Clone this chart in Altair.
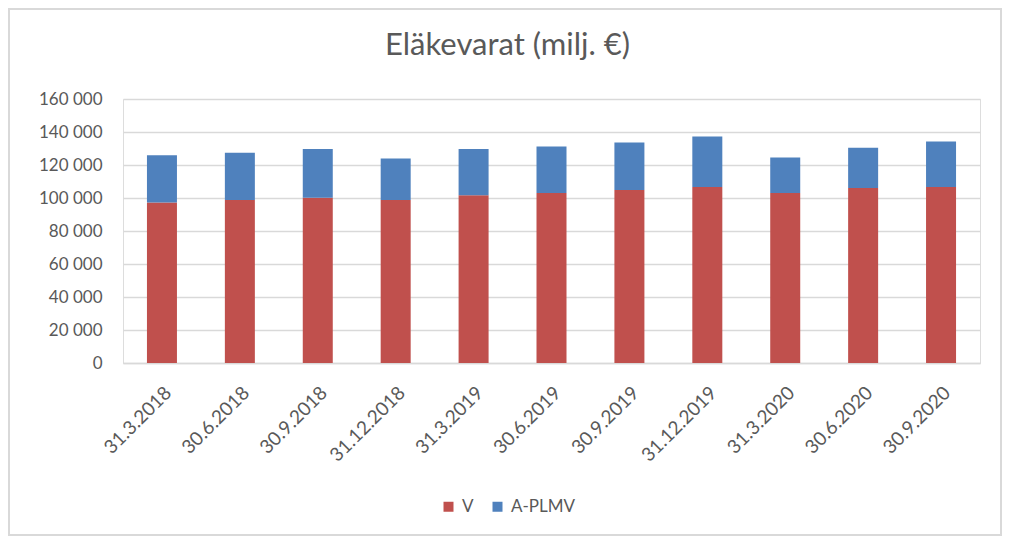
import altair as alt
import pandas as pd

dates = ["31.3.2018", "30.6.2018", "30.9.2018", "31.12.2018", "31.3.2019", "30.6.2019",
         "30.9.2019", "31.12.2019", "31.3.2020", "30.6.2020", "30.9.2020"]
v_values = [97200, 98800, 100200, 98800, 101600, 103000, 104800, 106700, 103000, 106100, 106700]
total_values = [125900, 127500, 129700, 123900, 129700, 131200, 133600, 137200, 124500, 130500, 134200]
aplmv_values = [t - v for t, v in zip(total_values, v_values)]
series_names = ["V", "A-PLMV"]
series_colors = ["#C0504D", "#4F81BD"]

rows = []
for d, v, a in zip(dates, v_values, aplmv_values):
    rows.append({"Päivä": d, "Sarja": "V", "Arvo": v, "järjestys": 0})
    rows.append({"Päivä": d, "Sarja": "A-PLMV", "Arvo": a, "järjestys": 1})
df = pd.DataFrame(rows)

FONT = "Lato"
GRAY = "#595959"

bars = alt.Chart(df).mark_bar(size=30).encode(
    x=alt.X("Päivä:N", sort=dates, title=None,
            scale=alt.Scale(paddingInner=0, paddingOuter=0),
            axis=alt.Axis(labelAngle=-45, labelAlign="right", labelBaseline="top",
                          labelFontSize=19, labelColor=GRAY, labelFont=FONT,
                          ticks=False, domain=True, domainColor="#d9d9d9", domainWidth=1.5,
                          labelPadding=20)),
    y=alt.Y("Arvo:Q", stack="zero", title=None,
            scale=alt.Scale(domain=[0, 160000], nice=False),
            axis=alt.Axis(values=[0, 20000, 40000, 60000, 80000, 100000, 120000, 140000, 160000],
                          labelExpr="replace(format(datum.value, ','), regexp(',', 'g'), ' ')",
                          labelFontSize=17, labelColor=GRAY, labelFont=FONT,
                          ticks=False, domain=False, labelPadding=21,
                          gridColor="#d9d9d9", gridWidth=1.5)),
    color=alt.Color("Sarja:N", sort=series_names,
                    scale=alt.Scale(domain=series_names, range=series_colors),
                    legend=alt.Legend(title=None, orient="none", direction="horizontal",
                                      legendX=317, legendY=399, symbolType="square",
                                      symbolSize=100, symbolStrokeWidth=0,
                                      labelFontSize=17, labelColor=GRAY, labelFont=FONT,
                                      labelOffset=5, columnPadding=15)),
    order=alt.Order("järjestys:Q", sort="ascending"),
)

border = alt.Chart(df).mark_rect(fill=None, stroke="#d9d9d9", strokeWidth=2).encode(
    x=alt.value(-114), x2=alt.value(878), y=alt.value(-90), y2=alt.value(436)
)

chart = alt.layer(border, bars).properties(
    width=857, height=264,
    title=alt.TitleParams("Eläkevarat (milj. €)", fontSize=31, font=FONT, fontWeight=400,
                          color=GRAY, anchor="middle", frame="group", dx=-44, offset=-54),
    autosize=alt.AutoSizeParams(type="none"),
    padding={"left": 115, "top": 91, "right": 23, "bottom": 174},
).configure_view(stroke=None).configure(background="white")

chart.save("out.html", embed_options={"renderer": "svg", "actions": False})
